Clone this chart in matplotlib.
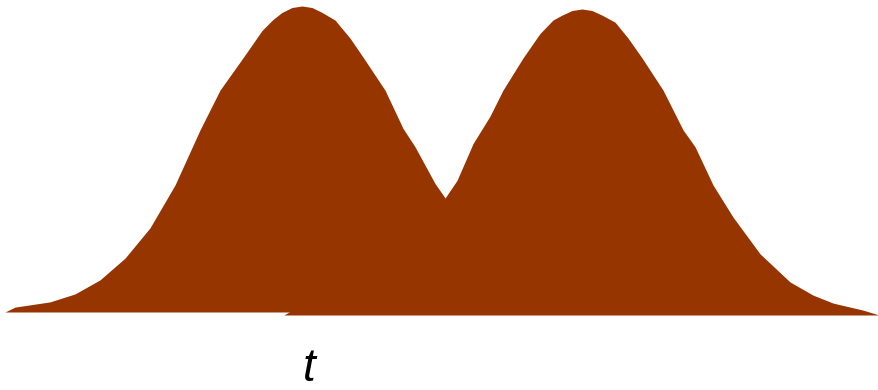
import matplotlib
matplotlib.use("Agg")
import matplotlib.pyplot as plt

# Left hump (x in chart units, height relative to peak)
left_x = [0.05, 0.15, 0.50, 0.75, 1.00, 1.25, 1.50, 1.75, 2.00, 2.20, 2.45, 2.62,
          2.73, 2.82, 2.92, 3.02, 3.12, 3.22, 3.35, 3.50, 3.63, 3.85, 4.03, 4.15,
          4.35, 4.45, 4.70, 5.00, 5.30, 5.60, 5.99]
left_y = [0.0, 0.016, 0.033, 0.059, 0.105, 0.176, 0.275, 0.415, 0.595, 0.725, 0.84, 0.92,
          0.956, 0.979, 0.995, 1.0, 0.995, 0.979, 0.954, 0.895, 0.833, 0.725, 0.60, 0.54,
          0.42, 0.373, 0.20, 0.10, 0.045, 0.015, 0.0]

# Right hump
right_x = [2.84, 2.90, 3.20, 3.50, 3.80, 4.10, 4.30, 4.45, 4.57, 4.73, 4.90, 5.03,
           5.23, 5.40, 5.53, 5.62, 5.72, 5.82, 5.92, 6.02, 6.15, 6.28, 6.42, 6.63,
           6.83, 6.95, 7.13, 7.33, 7.60, 7.90, 8.13, 8.33, 8.63, 8.79]
right_y = [0.0, 0.012, 0.03, 0.065, 0.12, 0.21, 0.30, 0.382, 0.44, 0.56, 0.65, 0.735,
           0.84, 0.92, 0.964, 0.98, 0.995, 1.0, 0.995, 0.98, 0.957, 0.905, 0.84, 0.735,
           0.605, 0.55, 0.425, 0.32, 0.20, 0.108, 0.065, 0.039, 0.016, 0.0]

axis_label = "t"
color = "#963500"
right_base = -0.0098

fig = plt.figure(figsize=(8.79, 3.90), dpi=100)
ax = fig.add_axes([0, 0, 1, 1])
ax.fill_between(left_x, left_y, 0, color=color, linewidth=0)
ax.fill_between(right_x, [v + right_base for v in right_y], right_base,
                color=color, linewidth=0)
ax.set_xlim(0, 8.79)
ax.set_ylim(-0.2549, 1.0196)
ax.axis("off")
ax.text(3.09, -0.185, axis_label, fontsize=33, style="italic",
        family=["Liberation Sans", "DejaVu Sans"], ha="center", va="center",
        color="black")
fig.savefig("out.png", dpi=100)
